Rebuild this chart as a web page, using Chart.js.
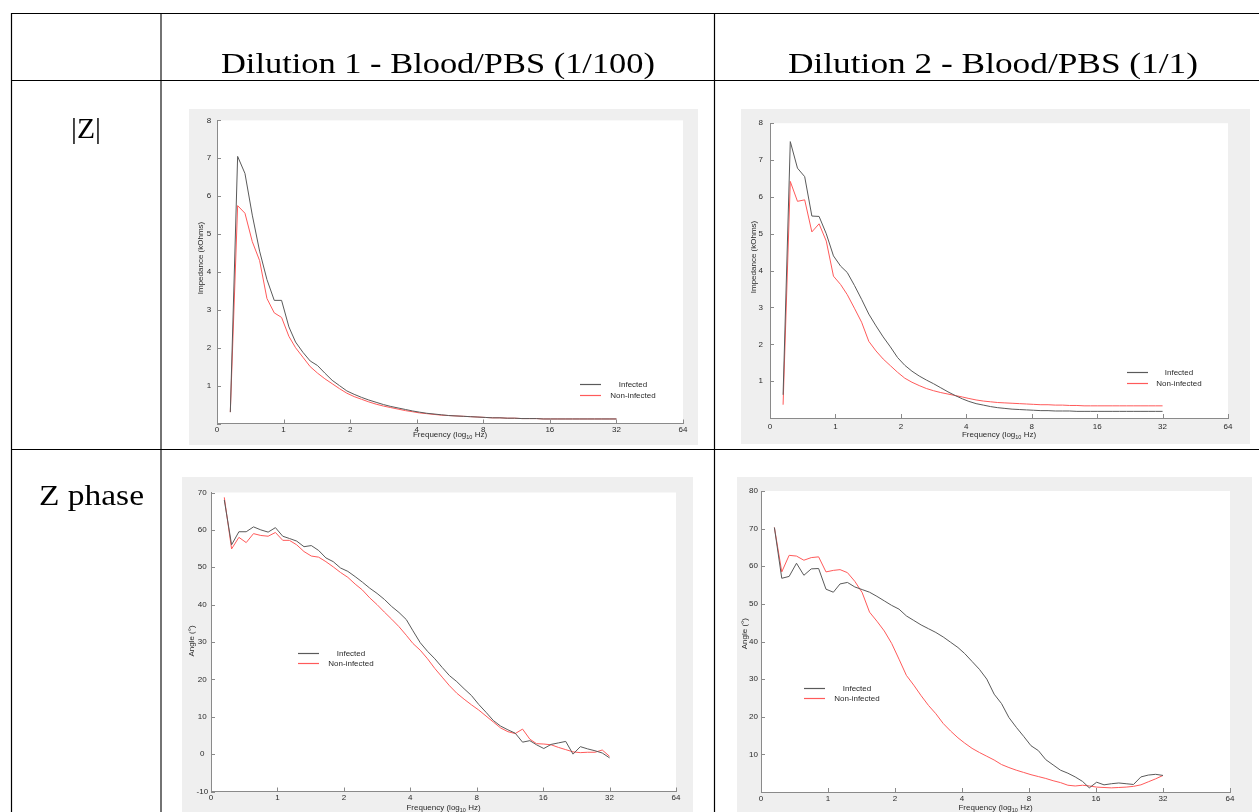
<!DOCTYPE html>
<html><head><meta charset="utf-8"><title>Impedance and phase</title>
<script src="https://cdn.jsdelivr.net/npm/chart.js@4.4.1/dist/chart.umd.min.js"></script>
<style>
html,body{margin:0;padding:0;background:#fff;}
body{width:1259px;height:812px;position:relative;overflow:hidden;}
.panel{position:absolute;background:#efefef;}
.panel canvas{position:absolute;left:0;top:0;display:block;}
svg{position:absolute;left:0;top:0;pointer-events:none;}
</style></head><body>
<div class="panel" style="left:189px;top:109px;width:509px;height:336px"><canvas id="c1" width="509" height="336"></canvas></div>
<div class="panel" style="left:741px;top:109px;width:509px;height:335px"><canvas id="c2" width="509" height="335"></canvas></div>
<div class="panel" style="left:182px;top:477px;width:511px;height:335px"><canvas id="c3" width="511" height="335"></canvas></div>
<div class="panel" style="left:737px;top:477px;width:515px;height:335px"><canvas id="c4" width="515" height="335"></canvas></div>
<svg width="1259" height="812" xmlns="http://www.w3.org/2000/svg">
  <g stroke="#000" stroke-width="1.2">
    <line x1="11" y1="13.5" x2="1259" y2="13.5"/>
    <line x1="11" y1="80.5" x2="1259" y2="80.5"/>
    <line x1="11" y1="449.5" x2="1259" y2="449.5"/>
    <line x1="11.5" y1="13" x2="11.5" y2="812"/>
    <line x1="714.5" y1="13" x2="714.5" y2="812"/>
  </g>
  <line x1="161" y1="13" x2="161" y2="812" stroke="#000" stroke-width="1.1"/>
  <g font-family="'Liberation Serif', 'Times New Roman', serif" font-size="30" fill="#000">
    <text x="221" y="72.5" textLength="434" lengthAdjust="spacingAndGlyphs">Dilution 1 - Blood/PBS (1/100)</text>
    <text x="788" y="72.5" textLength="410" lengthAdjust="spacingAndGlyphs">Dilution 2 - Blood/PBS (1/1)</text>
    <text x="71" y="138" textLength="30" lengthAdjust="spacingAndGlyphs">|Z|</text>
    <text x="39" y="505" textLength="105" lengthAdjust="spacingAndGlyphs">Z phase</text>
  </g>
</svg>
<script>
// ---- data ----
const freqPos = [0.20,0.31,0.42,0.53,0.64,0.75,0.86,0.97,1.08,1.18,
  1.29,1.40,1.51,1.62,1.73,1.84,1.95,2.06,2.17,2.28,
  2.39,2.50,2.61,2.72,2.83,2.94,3.04,3.15,3.26,3.37,
  3.48,3.59,3.70,3.81,3.92,4.03,4.14,4.25,4.36,4.47,
  4.58,4.69,4.80,4.90,5.01,5.12,5.23,5.34,5.45,5.56,
  5.67,5.78,5.89,6.00];
const xTickValues = [0,1,2,3,4,5,6,7];
const xTickLabels = ['0','1','2','4','8','16','32','64'];
const zTicks = [0,1,2,3,4,5,6,7,8];
const phase1Ticks = [-10,0,10,20,30,40,50,60,70];
const phase2Ticks = [0,10,20,30,40,50,60,70,80];
const seriesNames = ['Infected','Non-infected'];

const d1ZInfected = [0.3,7.05,6.6,5.5,4.55,3.8,3.25,3.25,2.55,2.15,
  1.88,1.65,1.53,1.33,1.14,1.0,0.86,0.77,0.69,0.62,
  0.56,0.5,0.45,0.41,0.37,0.33,0.3,0.27,0.25,0.23,
  0.21,0.2,0.19,0.18,0.17,0.16,0.15,0.15,0.14,0.14,
  0.13,0.13,0.13,0.12,0.12,0.12,0.12,0.12,0.12,0.12,
  0.12,0.12,0.12,0.12];
const d1ZNonInfected = [0.3,5.75,5.55,4.8,4.3,3.3,2.92,2.8,2.3,2.0,
  1.75,1.5,1.33,1.18,1.05,0.92,0.8,0.71,0.64,0.57,
  0.51,0.46,0.42,0.38,0.34,0.31,0.28,0.26,0.24,0.22,
  0.21,0.2,0.19,0.18,0.17,0.16,0.15,0.15,0.14,0.14,
  0.13,0.13,0.13,0.12,0.12,0.12,0.12,0.12,0.12,0.12,
  0.12,0.12,0.12,0.12];
const d2ZInfected = [0.63,7.5,6.78,6.55,5.48,5.47,5.0,4.4,4.12,3.95,
  3.6,3.22,2.82,2.5,2.2,1.93,1.64,1.43,1.27,1.14,
  1.03,0.93,0.82,0.71,0.61,0.52,0.45,0.39,0.35,0.31,
  0.28,0.26,0.24,0.23,0.22,0.21,0.2,0.2,0.19,0.19,
  0.19,0.18,0.18,0.18,0.18,0.18,0.18,0.18,0.18,0.18,
  0.18,0.18,0.18,0.18];
const d2ZNonInfected = [0.36,6.42,5.88,5.92,5.05,5.27,4.8,3.85,3.62,3.35,
  2.98,2.6,2.08,1.82,1.6,1.42,1.24,1.08,0.97,0.88,
  0.8,0.74,0.69,0.65,0.61,0.57,0.53,0.49,0.46,0.44,
  0.42,0.41,0.4,0.39,0.38,0.37,0.36,0.36,0.35,0.35,
  0.34,0.34,0.33,0.33,0.33,0.33,0.33,0.33,0.33,0.33,
  0.33,0.33,0.33,0.33];
const d1PhaseInfected = [68,56,59.5,59.5,60.8,60.0,59.4,60.6,58.3,57.7,
  57.0,55.5,55.8,54.5,52.5,51.5,49.8,48.9,47.5,46.0,
  44.4,43.0,41.4,39.5,37.9,36.0,33.0,29.8,27.5,25.5,
  23.2,21.0,19.4,17.5,15.7,13.3,11.2,9.0,7.5,6.5,
  5.6,3.2,3.6,2.5,1.5,2.6,3.0,3.4,0.0,2.0,
  1.4,0.9,0.3,-1.0];
const d1PhaseNonInfected = [68.7,54.9,58.0,56.6,59.0,58.5,58.3,59.3,57.2,57.2,
  56.0,54.2,53.0,52.7,51.5,50.1,48.6,47.3,45.5,43.9,
  41.8,40.0,38.0,36.1,34.1,31.8,29.6,27.8,25.5,22.9,
  20.6,18.3,16.3,14.7,13.2,11.8,10.2,8.6,7.0,6.0,
  5.5,6.7,4.0,2.8,2.7,2.5,1.8,1.2,0.6,0.4,
  0.5,0.5,1.1,-0.6];
const d2PhaseInfected = [70.3,56.8,57.3,60.8,57.6,59.3,59.4,53.9,53.1,55.3,
  55.7,54.5,53.8,53.1,52.0,50.8,49.6,48.6,46.8,45.6,
  44.4,43.4,42.4,41.2,39.8,38.4,36.8,34.7,32.6,30.0,
  26.0,23.5,19.8,17.2,14.8,12.3,11.0,8.6,7.2,5.8,
  5.0,4.0,2.8,1.1,2.6,1.9,2.2,2.4,2.2,2.0,
  4.0,4.5,4.7,4.4];
const d2PhaseNonInfected = [70.3,58.5,62.9,62.7,61.6,62.3,62.5,58.5,58.9,59.1,
  58.3,56.0,53.0,47.8,45.4,42.8,39.5,35.3,31.0,28.4,
  25.6,23.0,20.8,18.2,16.2,14.4,13.0,11.6,10.5,9.5,
  8.5,7.3,6.5,5.8,5.2,4.6,4.1,3.6,3.0,2.5,
  1.8,1.6,1.8,1.6,1.3,1.2,1.1,1.2,1.3,1.5,
  1.9,2.7,3.5,4.4];

// ---- styles ----
const INF_COLOR = '#5a5a5a';
const NON_COLOR = '#ff5a5a';
const SERIES_COLORS = [INF_COLOR, NON_COLOR];
const AXIS_COLOR = '#8a8a8a';
const TEXT_COLOR = '#2a2a2a';
const SANS = '"Liberation Sans", Arial, sans-serif';
const TICK_LEN = 4;

const deco = {
  id: 'deco',
  beforeDraw(chart) {
    const a = chart.chartArea, ctx = chart.ctx;
    ctx.save(); ctx.fillStyle = '#fff';
    ctx.fillRect(a.left, a.top, a.right - a.left, a.bottom - a.top);
    ctx.restore();
  },
  afterDraw(chart, args, o) {
    const ctx = chart.ctx, xs = chart.scales.x, ys = chart.scales.y, a = chart.chartArea;
    ctx.save();
    ctx.strokeStyle = AXIS_COLOR; ctx.lineWidth = 1;
    xs.ticks.forEach(t => {
      const p = Math.round(xs.getPixelForValue(t.value)) + 0.5;
      ctx.beginPath(); ctx.moveTo(p, a.bottom); ctx.lineTo(p, a.bottom - TICK_LEN); ctx.stroke();
    });
    ys.ticks.forEach(t => {
      const p = Math.round(ys.getPixelForValue(t.value)) + 0.5;
      ctx.beginPath(); ctx.moveTo(a.left, p); ctx.lineTo(a.left + TICK_LEN, p); ctx.stroke();
    });
    // axis titles
    ctx.fillStyle = TEXT_COLOR;
    ctx.textBaseline = 'middle';
    const big = '8px ' + SANS, small = '5.5px ' + SANS;
    const p1 = 'Frequency (log', sub = '10', p3 = ' Hz)';
    ctx.font = big; const w1 = ctx.measureText(p1).width, w3 = ctx.measureText(p3).width;
    ctx.font = small; const w2 = ctx.measureText(sub).width;
    const cx = (a.left + a.right) / 2;
    let x0 = cx - (w1 + w2 + w3) / 2;
    ctx.textAlign = 'left';
    ctx.font = big; ctx.fillText(p1, x0, o.xTitleY);
    ctx.font = small; ctx.fillText(sub, x0 + w1, o.xTitleY + 2.5);
    ctx.font = big; ctx.fillText(p3, x0 + w1 + w2, o.xTitleY);
    ctx.save();
    ctx.translate(o.yTitleX, o.yTitleY); ctx.rotate(-Math.PI / 2);
    ctx.textAlign = 'center'; ctx.font = big; ctx.fillText(o.yTitle, 0, 0);
    ctx.restore();
    // legend
    seriesNames.forEach((name, i) => {
      const y = Math.round(o.legY + i * o.legGap) + 0.5;
      ctx.strokeStyle = SERIES_COLORS[i]; ctx.lineWidth = 1.2;
      ctx.beginPath(); ctx.moveTo(o.legX, y); ctx.lineTo(o.legX + 21, y); ctx.stroke();
      ctx.textAlign = 'center'; ctx.font = big; ctx.fillStyle = TEXT_COLOR;
      ctx.fillText(name, o.legTextX, y);
    });
    ctx.restore();
  }
};

function makeChart(id, inf, non, yMin, yMax, yTicks, hideZero, L) {
  const ds = (name, vals, color) => ({
    label: name, data: freqPos.map((x, i) => ({x: x, y: vals[i]})),
    borderColor: color, backgroundColor: color, borderWidth: 1,
    pointRadius: 0, tension: 0, fill: false
  });
  return new Chart(document.getElementById(id), {
    type: 'line',
    data: {datasets: [ds(seriesNames[0], inf, INF_COLOR), ds(seriesNames[1], non, NON_COLOR)]},
    options: {
      responsive: false, animation: false, devicePixelRatio: 1,
      layout: {padding: {left: 0, right: L.padR, top: L.padT, bottom: 0}},
      plugins: {legend: {display: false}, tooltip: {enabled: false}, deco: L},
      scales: {
        x: {
          type: 'linear', min: 0, max: 7,
          afterBuildTicks: s => { s.ticks = xTickValues.map(v => ({value: v})); },
          afterFit: s => { s.height = L.xH; },
          ticks: {callback: (v, i) => xTickLabels[i], font: {family: SANS, size: 8}, color: TEXT_COLOR,
                  padding: L.xPad, maxRotation: 0, minRotation: 0, autoSkip: false},
          grid: {display: false, drawTicks: false},
          border: {display: true, color: AXIS_COLOR, width: 1}
        },
        y: {
          type: 'linear', min: yMin, max: yMax,
          afterBuildTicks: s => { s.ticks = yTicks.map(v => ({value: v})); },
          afterFit: s => { s.width = L.yW; },
          ticks: {callback: v => (hideZero && v === 0) ? '' : String(v), font: {family: SANS, size: 8},
                  color: TEXT_COLOR, padding: L.yPad, crossAlign: 'center', autoSkip: false},
          grid: {display: false, drawTicks: false},
          border: {display: true, color: AXIS_COLOR, width: 1}
        }
      }
    },
    plugins: [deco]
  });
}

makeChart('c1', d1ZInfected, d1ZNonInfected, 0, 8, zTicks, true,
  {yW: 28, padT: 11.4, padR: 15, xH: 21.5, yPad: 5.8, xPad: 1.4, yTitle: 'Impedance (kOhms)',
   yTitleX: 11.7, yTitleY: 149, xTitleY: 325.5, legX: 391, legY: 275, legGap: 11, legTextX: 444});
makeChart('c2', d2ZInfected, d2ZNonInfected, 0, 8, zTicks, true,
  {yW: 29, padT: 14.2, padR: 22, xH: 26, yPad: 7, xPad: 3.7, yTitle: 'Impedance (kOhms)',
   yTitleX: 12.3, yTitleY: 148, xTitleY: 325.5, legX: 386, legY: 263, legGap: 11, legTextX: 438});
makeChart('c3', d1PhaseInfected, d1PhaseNonInfected, -10, 70, phase1Ticks, false,
  {yW: 29, padT: 15.5, padR: 17, xH: 20.5, yPad: 2.9, xPad: 1.2, yTitle: 'Angle (°)',
   yTitleX: 9.7, yTitleY: 164, xTitleY: 331, legX: 116, legY: 176.3, legGap: 10, legTextX: 169});
makeChart('c4', d2PhaseInfected, d2PhaseNonInfected, 0, 80, phase2Ticks, true,
  {yW: 24, padT: 14, padR: 22, xH: 20, yPad: 3, xPad: 2.2, yTitle: 'Angle (°)',
   yTitleX: 7.8, yTitleY: 156.7, xTitleY: 331, legX: 67, legY: 210.7, legGap: 10.3, legTextX: 120});
</script>
</body></html>
